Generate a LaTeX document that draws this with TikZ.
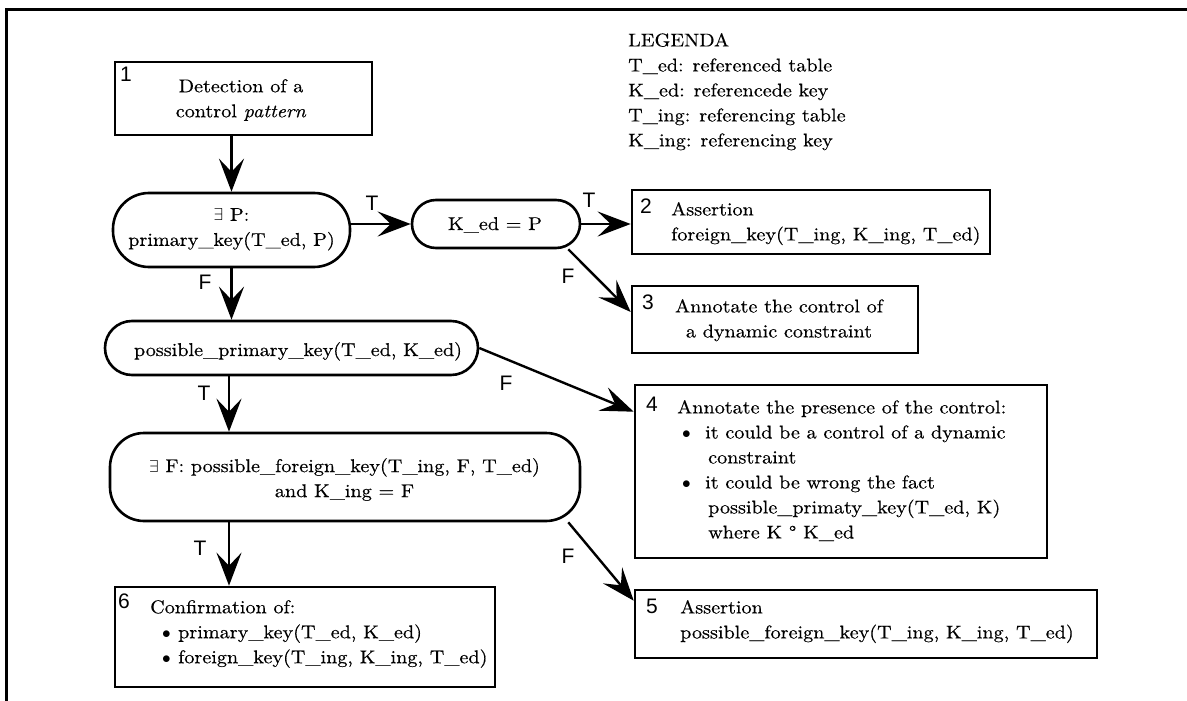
\documentclass[tikz,border=0pt]{standalone}
\usepackage{fontspec}
\setmainfont{lmroman10-regular.otf}[ItalicFont=lmroman10-italic.otf, FakeStretch=1.09, FakeBold=0.4]
\newfontfamily\labelfont{Liberation Sans}
\usetikzlibrary{arrows.meta,calc}
\newcommand{\bodysize}{\fontsize{18.5}{25}\selectfont}
\newcommand{\tagsize}{\labelfont\fontsize{21}{21}\selectfont}
\newcommand{\itembullet}{$\bullet$}
\begin{document}
\begin{tikzpicture}[x=1pt,y=-1pt,
  stepbox/.style={draw, line width=2.6pt, inner sep=0pt},
  condbox/.style={draw, line width=2.6pt, inner sep=0pt, rounded corners=#1},
  txt/.style={inner sep=0pt, font=\bodysize},
  num/.style={inner sep=0pt, font=\tagsize},
  lbl/.style={inner sep=0pt, font=\tagsize},
  flow/.style={line width=2.4pt, -{Stealth[length=33pt,width=25pt,inset=13pt]}}]
\useasboundingbox (0,0) rectangle (1187,701);

% frame
\draw[line width=3pt] (6.5,701) -- (6.5,10) -- (1187,10);

% legend
\node[txt, anchor=north west, align=left] (legend) at (628,33)
  {LEGENDA\\T\_ed: referenced table\\K\_ed: referencede key\\T\_ing: referencing table\\K\_ing: referencing key};

% 1: detection
\node[stepbox, minimum width=257pt, minimum height=73pt] (b1) at (243.5,98.5) {};
\node[num, anchor=north west] (n1) at (120,67) {1};
\node[txt, anchor=north, align=center] (t1) at (241,79) {Detection of a\\control \textit{pattern}};

% first test
\node[condbox=36pt, minimum width=237pt, minimum height=74pt] (c1) at (231.5,230) {};
\node[txt, anchor=north, align=center] (tc1) at (231.5,208) {$\exists$ P:\\primary\_key(T\_ed, P)};

% K_ed = P
\node[condbox=24pt, minimum width=168pt, minimum height=48pt] (c2) at (496,224) {};
\node[txt, anchor=base] (tc2) at (495,230) {K\_ed = P};

% 2: assertion
\node[stepbox, minimum width=358pt, minimum height=64pt] (b2) at (811,222) {};
\node[num, anchor=north west] (n2) at (640,199) {2};
\node[txt, anchor=north west, align=left] (t2) at (671,202) {Assertion\\foreign\_key(T\_ing, K\_ing, T\_ed)};

% 3: dynamic constraint
\node[stepbox, minimum width=286pt, minimum height=67pt] (b3) at (775,319.5) {};
\node[num, anchor=north west] (n3) at (642,295) {3};
\node[txt, anchor=north, align=center] (t3) at (779,299) {Annotate the control of\\a dynamic constraint};

% possible primary key test
\node[condbox=27pt, minimum width=373pt, minimum height=54pt] (c3) at (291.5,348) {};
\node[txt, anchor=base] (tc3) at (298,356) {possible\_primary\_key(T\_ed, K\_ed)};

% 4: presence of the control
\node[stepbox, minimum width=412pt, minimum height=173pt] (b4) at (841,471.5) {};
\node[num, anchor=north west] (n4) at (646,397) {4};
\node[txt, anchor=north west, align=left] (t4) at (677,400)
  {Annotate the presence of the control:\\
   \hspace*{5pt}\makebox[23pt][l]{\itembullet}it could be a control of a dynamic\\
   \hspace*{31pt}constraint\\
   \hspace*{5pt}\makebox[23pt][l]{\itembullet}it could be wrong the fact\\
   \hspace*{31pt}possible\_primaty\_key(T\_ed, K)\\
   \hspace*{31pt}where K \textdegree{} K\_ed};

% possible foreign key test
\node[condbox=34pt, minimum width=470pt, minimum height=88pt] (c4) at (345,477) {};
\node[txt, anchor=north, align=center] (tc4) at (344.5,458)
  {$\exists$ F: possible\_foreign\_key(T\_ing, F, T\_ed)\\and K\_ing = F};

% 5: possible foreign key
\node[stepbox, minimum width=462pt, minimum height=68pt] (b5) at (866,624) {};
\node[num, anchor=north west] (n5) at (646,599) {5};
\node[txt, anchor=north west, align=left] (t5) at (680,600)
  {Assertion\\possible\_foreign\_key(T\_ing, K\_ing, T\_ed)};

% 6: confirmation
\node[stepbox, minimum width=380pt, minimum height=100pt] (b6) at (305,637) {};
\node[num, anchor=north west] (n6) at (118,594) {6};
\node[txt, anchor=north west, align=left] (t6) at (150,600)
  {Confirmation of:\\
   \hspace*{12pt}\makebox[16pt][l]{\itembullet}primary\_key(T\_ed, K\_ed)\\
   \hspace*{12pt}\makebox[16pt][l]{\itembullet}foreign\_key(T\_ing, K\_ing, T\_ed)};

% connectors
\draw[flow] (c1.north |- b1.south) -- (c1.north);
\draw[flow] (c1.east |- c2.west) -- (c2.west);
\node[lbl] (l1) at (372,203) {T};
\draw[flow] (c2.east) -- (c2.east -| b2.west);
\node[lbl] (l2) at (589,200) {T};
\draw[flow] ([xshift=-13pt]c2.south east) -- ([yshift=7.5pt]b3.west);
\node[lbl] (l3) at (568,276) {F};
\draw[flow] (c1.south) -- (c1.south |- c3.north);
\node[lbl] (l4) at (205,282) {F};
\draw[flow] (c3.east) -- ([yshift=-28pt]b4.north west);
\node[lbl] (l5) at (506,383) {F};
\draw[flow] (c3.south -| 229,0) -- (c4.north -| 229,0);
\node[lbl] (l6) at (204,393) {T};
\draw[flow] (c4.south -| 229,0) -- (b6.north -| 229,0);
\node[lbl] (l7) at (200,548) {T};
\draw[flow] ([xshift=-13pt]c4.south east) -- ([yshift=-12pt]b5.north west);
\node[lbl] (l8) at (568,556) {F};
\end{tikzpicture}
\end{document}
